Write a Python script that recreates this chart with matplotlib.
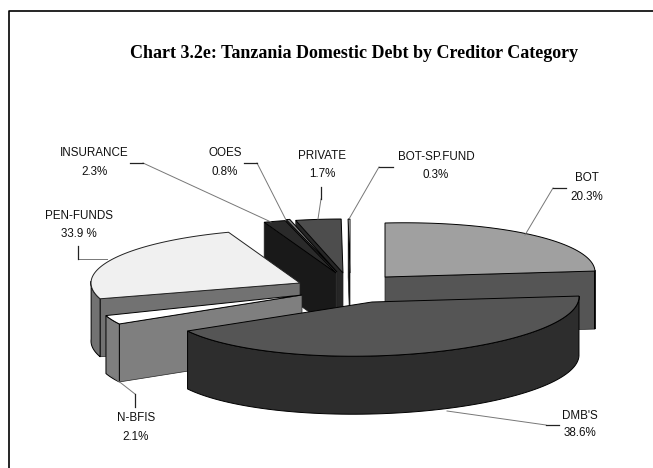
import numpy as np
import matplotlib
matplotlib.use("Agg")
import matplotlib.pyplot as plt
from matplotlib.patches import Polygon

# ---- data -------------------------------------------------------------
categories = ["BOT", "DMB'S", "N-BFIS", "PEN-FUNDS", "INSURANCE", "OOES", "PRIVATE", "BOT-SP.FUND"]
share_labels = ["20.3%", "38.6%", "2.1%", "33.9 %", "2.3%", "0.8%", "1.7%", "0.3%"]
# Angular size of each slice as actually drawn in the picture (degrees, clockwise from 12 o'clock)
drawn_sweep = [89, 154, 10, 87, 6, 1, 12.5, 0.5]

# ---- layout / style ----------------------------------------------------
W, H = 653, 468
RY, DEPTH = 54, 58
CX, CY = 372, 302
explode_x = [13, 0, -70, -72, -36, -35, -29, -22]
explode_y = [-25, 0, -7, -19, -29, -30, -29, -29]
radius_x = [210, 207, 205, 209, 210, 210, 210, 210]
shear = [-5, -5, -5, 0, 0, 0, 0, 0]
top_col = ["#a0a0a0", "#555555", "#ffffff", "#f0f0f0", "#2a2a2a", "#808080", "#4d4d4d", "#ffffff"]
side_col = ["#555555", "#2d2d2d", "#7f7f7f", "#727272", "#191919", "#3c3c3c", "#262626", "#000000"]
draw_order = [7, 6, 5, 4, 0, 3, 2, 1]

label_xy = [(587, 178), (580, 416), (136, 418), (79, 216), (94, 153), (225, 153), (322, 156), (436, 157)]
label_gap = [19, 17, 19, 18, 19, 19, 18, 18]
leaders = [
    [(525, 235), (553, 188), (566, 188)],
    [(447, 411), (546, 425), (559, 425)],
    [(112, 376), (135, 394), (135, 407)],
    [(107, 259), (78, 259), (78, 246)],
    [(271, 222), (143, 163), (130, 163)],
    [(286, 220), (257, 163), (244, 163)],
    [(318, 219), (321, 199), (321, 187)],
    [(349, 219), (379, 167), (393, 167)],
]

plt.rcParams["font.family"] = ["Liberation Sans", "DejaVu Sans"]
fig = plt.figure(figsize=(W / 100, H / 100), dpi=100)
ax = fig.add_axes([0, 0, 1, 1])
ax.set_xlim(0, W)
ax.set_ylim(H, 0)
ax.axis("off")


def rim(i, a, b, n=80):
    t = np.radians(np.linspace(a, b, n))
    x = CX + explode_x[i] + radius_x[i] * np.sin(t)
    y = CY + explode_y[i] - RY * np.cos(t) + shear[i] * np.sin(t)
    return np.column_stack([x, y])


edges = np.concatenate([[0], np.cumsum(drawn_sweep)])
for i in draw_order:
    a, b = edges[i], edges[i + 1]
    apex = np.array([CX + explode_x[i], CY + explode_y[i]], dtype=float)
    down = np.array([0, DEPTH])
    # cut faces turned towards the viewer
    for ang, visible in ((a, np.sin(np.radians(a)) < -1e-6), (b, np.sin(np.radians(b)) > 1e-6)):
        if visible:
            p = rim(i, ang, ang, 1)[0]
            ax.add_patch(Polygon([apex, p, p + down, apex + down], closed=True,
                                 fc=side_col[i], ec="#222222", lw=0.5, zorder=2))
    # outer wall
    lo, hi = max(a, 88), min(b, 272)
    if hi > lo:
        r = rim(i, lo, hi)
        ax.add_patch(Polygon(np.vstack([r, (r + down)[::-1]]), closed=True,
                             fc=side_col[i], ec="black", lw=0.7, zorder=2))
    # top face
    ax.add_patch(Polygon(np.vstack([[apex], rim(i, a, b)]), closed=True,
                         fc=top_col[i], ec="black" if i != 3 else "#222222", lw=0.7, zorder=2))

# leader lines and labels
for i, name in enumerate(categories):
    pts = np.array(leaders[i])
    ax.plot(pts[:2, 0], pts[:2, 1], color="#777777", lw=0.7, zorder=3)
    ax.plot(pts[1:, 0], pts[1:, 1], color="#222222", lw=0.9, zorder=3)
    lx, ly = label_xy[i]
    ax.text(lx, ly, name, ha="center", va="center", fontsize=8.4, color="#111111")
    ax.text(lx, ly + label_gap[i], share_labels[i], ha="center", va="center", fontsize=8.4, color="#111111")

ax.text(354, 54, "Chart 3.2e: Tanzania Domestic Debt by Creditor Category", ha="center", va="center",
        family=["Liberation Serif", "DejaVu Serif"], weight="bold", fontsize=13.0, color="black")

# chart frame: top and left rules only
ax.plot([9, 9, W], [H, 11, 11], color="black", lw=1.2, zorder=4)

fig.savefig("out.png", dpi=100)
